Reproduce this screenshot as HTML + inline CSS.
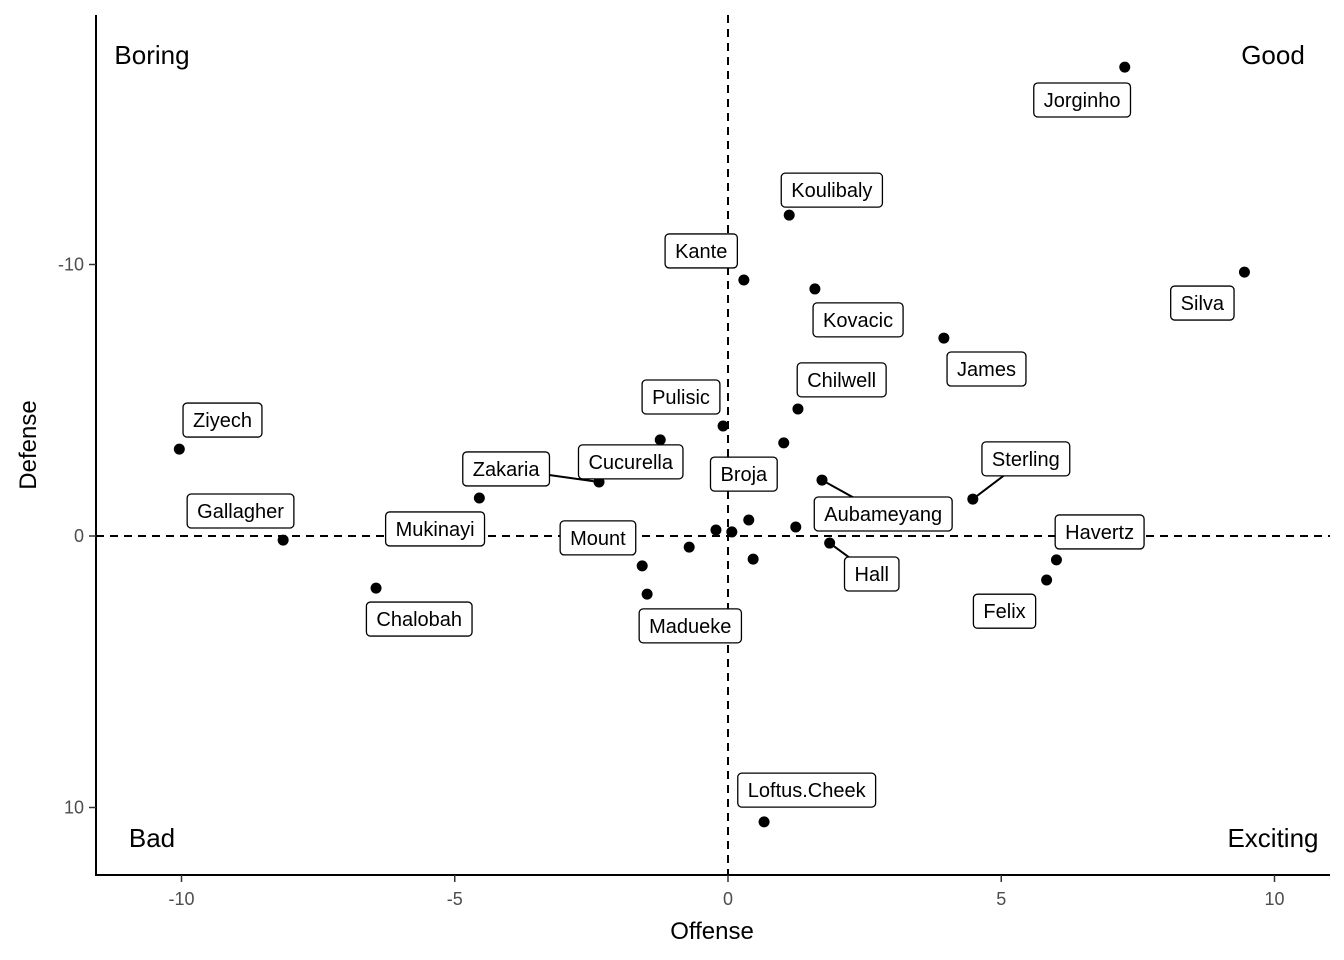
<!DOCTYPE html>
<html><head><meta charset="utf-8"><style>
body{margin:0;background:#fff}
svg{display:block;font-family:"Liberation Sans",Arial,sans-serif}
</style></head><body>
<svg id="chart" width="1344" height="960"></svg>
<script>
const names=["Jorginho","Koulibaly","Kante","Kovacic","Silva","James","Chilwell","Cucurella","Pulisic","Broja","Ziyech","Mukinayi","Zakaria","Aubameyang","Sterling","Gallagher","p17","p18","p19","p20","Mount","p22","Hall","p24","Madueke","Chalobah","Felix","Havertz","Loftus.Cheek"];
const offense=[7.26,1.12,0.29,1.59,9.45,3.95,1.28,-1.24,-0.09,1.02,-10.04,-4.55,-2.36,1.72,4.48,-8.14,-0.22,0.07,0.38,1.24,-0.71,0.46,1.86,-1.57,-1.48,-6.44,5.83,6.01,0.66];
const defense=[-17.27,-11.82,-9.43,-9.1,-9.72,-7.29,-4.68,-3.54,-4.05,-3.43,-3.2,-1.4,-1.99,-2.06,-1.36,0.15,-0.22,-0.15,-0.59,-0.33,0.41,0.85,0.26,1.1,2.14,1.92,1.62,0.88,10.53];
const labelNames=["Jorginho","Koulibaly","Kante","Kovacic","Silva","James","Chilwell","Pulisic","Ziyech","Zakaria","Cucurella","Broja","Sterling","Aubameyang","Gallagher","Mukinayi","Mount","Havertz","Hall","Chalobah","Felix","Madueke","Loftus.Cheek"];
const labelX=[6.48,1.90,-0.49,2.38,8.68,4.73,2.08,-0.86,-9.25,-4.06,-1.78,0.29,5.45,2.84,-8.92,-5.36,-2.38,6.80,2.63,-5.65,5.06,-0.69,1.44];
const labelY=[-16.06,-12.74,-10.50,-7.96,-8.58,-6.15,-5.75,-5.12,-4.27,-2.47,-2.73,-2.28,-2.84,-0.81,-0.92,-0.26,0.07,-0.15,1.40,3.06,2.77,3.31,9.36];
const connectors=[["Zakaria",-2.36,-1.99],["Aubameyang",1.72,-2.06],["Sterling",4.48,-1.36],["Hall",1.86,0.26]];
const xTicks=[-10,-5,0,5,10];
const yTicks=[-10,0,10];
const sx=v=>728+v*54.65;
const sy=v=>536+v*27.15;
const svg=document.getElementById('chart');
const NS="http://www.w3.org/2000/svg";
function mk(t,a,p){const e=document.createElementNS(NS,t);for(const k in a)e.setAttribute(k,a[k]);(p||svg).appendChild(e);return e;}
// axes
let e;
e=mk('line',{x1:96,y1:15,x2:96,y2:876,stroke:'#000','stroke-width':2});


e=mk('line',{x1:95,y1:875,x2:1330,y2:875,stroke:'#000','stroke-width':2});


e=mk('line',{x1:sx(0),y1:15,x2:sx(0),y2:875,stroke:'#000','stroke-width':2,'stroke-dasharray':'8,6'});


e=mk('line',{x1:96,y1:sy(0),x2:1330,y2:sy(0),stroke:'#000','stroke-width':2,'stroke-dasharray':'8,6'});


xTicks.forEach(v=>{
  let t=mk('line',{x1:sx(v),y1:875,x2:sx(v),y2:882,stroke:'#333','stroke-width':1.5});
  
  
  let l=mk('text',{x:sx(v),y:905,'text-anchor':'middle','font-size':18,fill:'#4d4d4d'});
  l.textContent=v;
  
  
});
yTicks.forEach(v=>{
  let t=mk('line',{x1:89,y1:sy(v),x2:96,y2:sy(v),stroke:'#333','stroke-width':1.5});
  
  
  let l=mk('text',{x:84,y:sy(v)+6,'text-anchor':'end','font-size':18,fill:'#4d4d4d'});
  l.textContent=v;
  
  
});
e=mk('text',{x:712,y:939,'text-anchor':'middle','font-size':24});
e.textContent='Offense';


e=mk('text',{x:0,y:0,'text-anchor':'middle','font-size':24,transform:'translate(36,445) rotate(-90)'});
e.textContent='Defense';


[["Boring",152,64],["Good",1273,64],["Bad",152,847],["Exciting",1273,847]].forEach(c=>{
  let t=mk('text',{x:c[1],y:c[2],'text-anchor':'middle','font-size':26});
  t.textContent=c[0];
  
  
});
// connectors
connectors.forEach(c=>{
  const i=labelNames.indexOf(c[0]);
  let l=mk('line',{x1:sx(c[1]),y1:sy(c[2]),x2:sx(labelX[i]),y2:sy(labelY[i]),stroke:'#000','stroke-width':2});
  
  
});
// points
offense.forEach((v,i)=>{
  let c=mk('circle',{cx:sx(v),cy:sy(defense[i]),r:5.5,fill:'#000'});
  
  
});
// labels
labelNames.forEach((n,i)=>{
  const g=mk('g',{});
  
  
  const t=mk('text',{x:sx(labelX[i]),y:sy(labelY[i])+7,'text-anchor':'middle','font-size':20},g);
  t.textContent=n;
  const w=t.getComputedTextLength()+20;
  const r=mk('rect',{x:sx(labelX[i])-w/2,y:sy(labelY[i])-17,width:w,height:34,rx:4,fill:'#fff',stroke:'#000','stroke-width':1.3},g);
  g.insertBefore(r,t);
});
</script>
</body></html>
